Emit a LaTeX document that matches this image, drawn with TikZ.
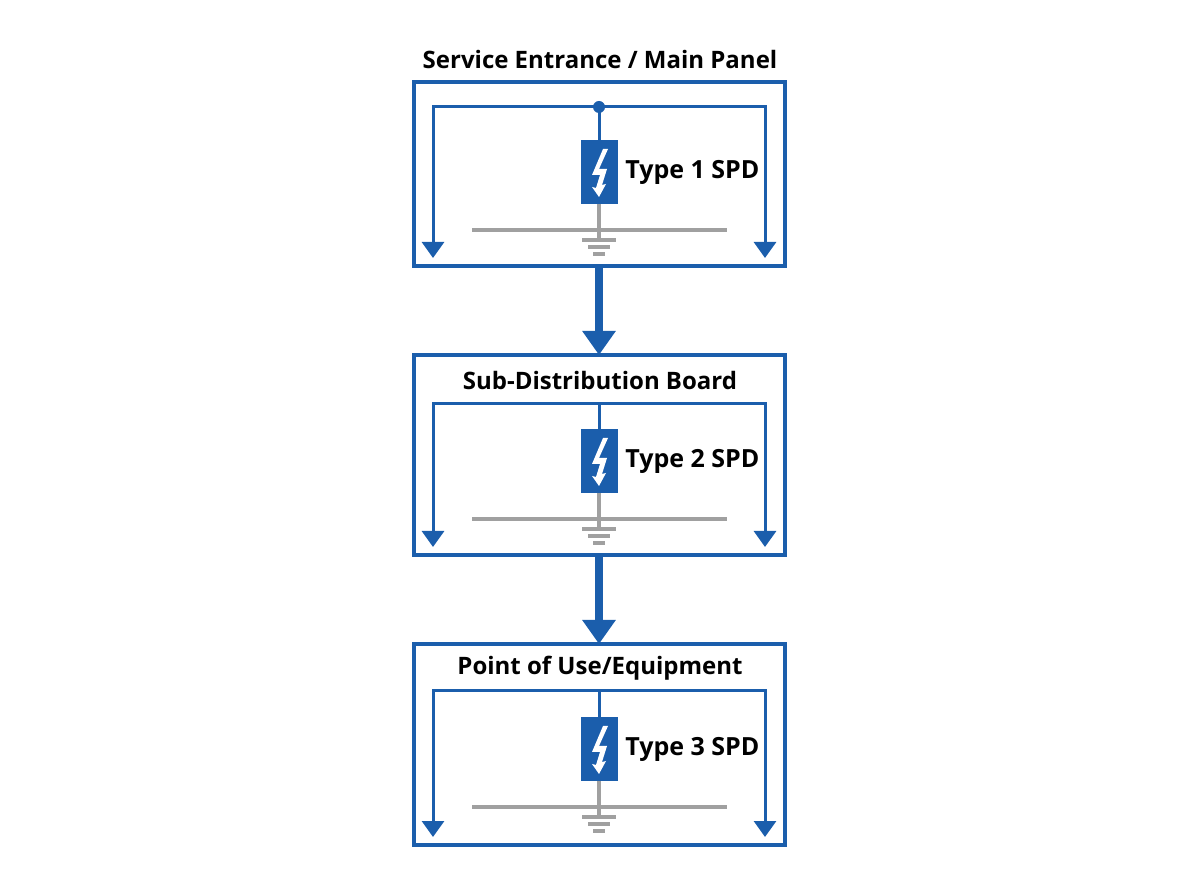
\documentclass[tikz,border=0pt]{standalone}
\usepackage{fontspec}
\setmainfont{Open Sans}
\usetikzlibrary{arrows.meta,calc}
\definecolor{spdblue}{RGB}{27,94,172}
\definecolor{gnd}{RGB}{160,160,160}
\tikzset{
  panel/.style={draw=spdblue, line width=1.6pt},
  bus/.style={draw=spdblue, line width=1.5pt},
  tip/.style={-{Triangle[length=8pt,width=11pt]}},
  feed/.style={draw=spdblue, line width=4pt, -{Triangle[length=12pt,width=16pt]}},
  spd/.style={fill=spdblue, minimum width=18.5pt, minimum height=32pt, inner sep=0pt},
  gline/.style={draw=gnd, line width=1.6pt},
  title/.style={font=\bfseries\fontsize{12}{14}\selectfont},
  tag/.style={font=\bfseries\fontsize{12.5}{14}\selectfont, anchor=west, inner sep=0pt}
}
% #1 name, #2 box top, #3 box bottom, #4 title y, #5 bus y, #6 spd y, #7 bar y, #8 title, #9 label
\newcommand{\spdpanel}[9]{%
  \draw[panel] (414,#2) rectangle (785,#3);
  \coordinate (#1top) at (599,#2);
  \coordinate (#1bot) at (599,#3);
  \node[title] (#1title) at (600,#4) {#8};
  \node[spd] (#1spd) at (599,#6) {};
  \coordinate (#1bus) at (599,#5);
  \draw[bus] (#1spd.north) -- (#1bus);
  \draw[bus,tip] (#1bus) -- (433,#5) -- (433,#3-8);
  \draw[bus,tip] (#1bus) -- (765,#5) -- (765,#3-8);
  \fill[white] ($(#1spd)+(4,-23)$) -- ++(-11,26) -- ++(8,0) -- ++(-4,13) -- ++(-4,-1)
    -- ++(7,10) -- ++(7,-13) -- ++(-4,1) -- ++(5,-16) -- ++(-8,0) -- ++(9,-20) -- cycle;
  \node[tag] (#1tag) at ($(#1spd.east)+(7,0)$) {#9};
  \coordinate (#1gnd) at (599,#7+10);
  \draw[gline] (472,#7) -- (727,#7);
  \draw[gline] (#1spd.south) -- (#1gnd);
  \draw[gline] (582,#7+10) -- (616,#7+10);
  \draw[gline] (588,#7+17) -- (610,#7+17);
  \draw[gline] (593,#7+24) -- (605,#7+24);
}
\begin{document}
\begin{tikzpicture}[x=0.5pt,y=-0.5pt]
\useasboundingbox (0,0) rectangle (1200,892);

\spdpanel{main}{82}{266}{60}{107}{172}{230}{Service Entrance / Main Panel}{Type 1 SPD}
\fill[spdblue] (mainbus) circle (3pt);

\spdpanel{sub}{355}{555}{381}{404}{461}{519}{Sub-Distribution Board}{Type 2 SPD}

\spdpanel{use}{644}{845}{668}{691}{749}{807}{Point of Use/Equipment}{Type 3 SPD}

\draw[feed] (mainbot) -- (subtop);
\draw[feed] (subbot) -- (usetop);
\end{tikzpicture}
\end{document}
